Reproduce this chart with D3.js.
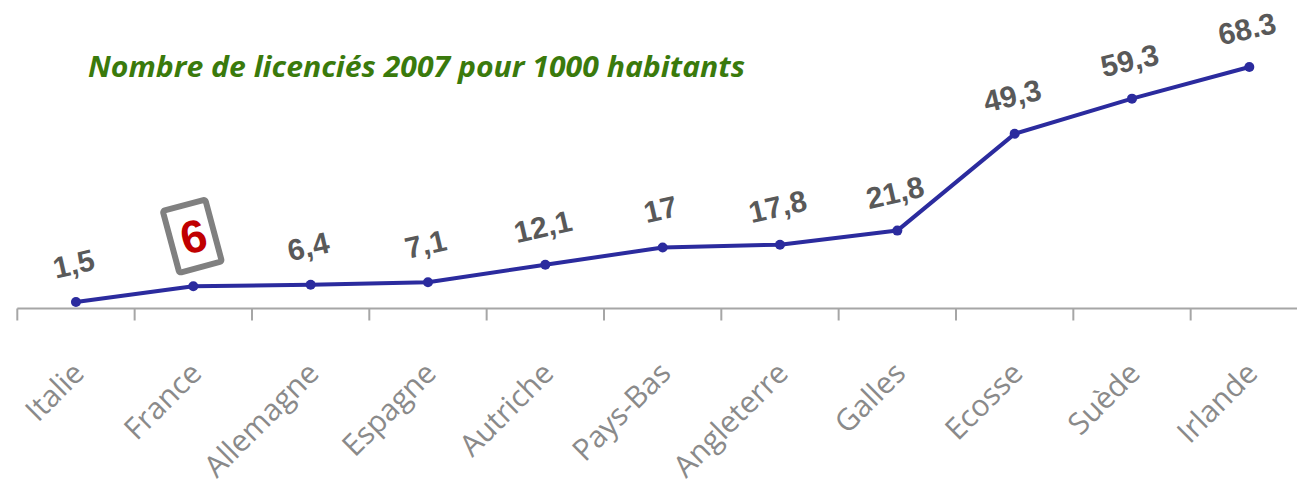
<!DOCTYPE html>
<html>
<head>
    <meta charset="UTF-8">
    <title>Nombre de licenciés 2007 pour 1000 habitants</title>
    <script src="https://d3js.org/d3.v7.min.js"></script>
    <style>
        body {
            margin: 0;
            background: #ffffff;
        }
        svg {
            display: block;
        }
        .title {
            font-family: "Open Sans", sans-serif;
            font-weight: bold;
            font-style: italic;
            fill: #3a7a0c;
        }
        .cat-label {
            font-family: "Open Sans", sans-serif;
            fill: #8a8a8a;
        }
        .val-label {
            font-family: "Liberation Sans", Arial, sans-serif;
            font-weight: bold;
            fill: #595959;
        }
    </style>
</head>
<body>
    <div id="chart"></div>

    <script>
        var categories = ["Italie", "France", "Allemagne", "Espagne", "Autriche", "Pays-Bas",
                          "Angleterre", "Galles", "Ecosse", "Suède", "Irlande"];
        var values = [1.5, 6, 6.4, 7.1, 12.1, 17, 17.8, 21.8, 49.3, 59.3, 68.3];
        var valueLabels = ["1,5", "6", "6,4", "7,1", "12,1", "17", "17,8", "21,8", "49,3", "59,3", "68.3"];
        var highlighted = "France";
        var title = "Nombre de licenciés 2007 pour 1000 habitants";

        var width = 1297,
            height = 481;

        var svg = d3.select("#chart").append("svg")
            .attr("width", width)
            .attr("height", height);

        // band scale, the last band runs past the right edge like the original
        var x = d3.scaleBand()
            .domain(categories)
            .range([17.3, 1308])
            .padding(0);

        var y = d3.scaleLinear()
            .domain([0, 70])
            .range([307.3, 61]);

        var axisY = 308.5;

        function cx(d) { return x(d) + x.bandwidth() / 2; }

        // axis line and ticks at the band edges
        var axis = svg.append("g");
        axis.append("line")
            .attr("x1", x.range()[0])
            .attr("x2", width)
            .attr("y1", axisY)
            .attr("y2", axisY)
            .attr("stroke", "#a6a6a6")
            .attr("stroke-width", 2);

        axis.selectAll(".tick")
            .data(categories)
            .enter().append("line")
            .attr("class", "tick")
            .attr("x1", function(d) { return x(d); })
            .attr("x2", function(d) { return x(d); })
            .attr("y1", axisY)
            .attr("y2", axisY + 12)
            .attr("stroke", "#a6a6a6")
            .attr("stroke-width", 2);

        axis.selectAll(".cat-label")
            .data(categories)
            .enter().append("text")
            .attr("class", "cat-label")
            .attr("font-size", 30)
            .attr("text-anchor", "end")
            .attr("transform", function(d) {
                return "translate(" + (cx(d) + 10) + "," + 375 + ") rotate(-45)";
            })
            .text(function(d) { return d; });

        // title
        svg.append("text")
            .attr("class", "title")
            .attr("x", 88)
            .attr("y", 77)
            .attr("font-size", 29)
            .attr("textLength", 657)
            .attr("lengthAdjust", "spacingAndGlyphs")
            .text(title);

        // the line
        var line = d3.line()
            .x(function(d, i) { return cx(categories[i]); })
            .y(function(d) { return y(d); });

        svg.append("path")
            .datum(values)
            .attr("d", line)
            .attr("fill", "none")
            .attr("stroke", "#2b2b9e")
            .attr("stroke-width", 4)
            .attr("stroke-linejoin", "round");

        svg.selectAll(".dot")
            .data(values)
            .enter().append("circle")
            .attr("class", "dot")
            .attr("cx", function(d, i) { return cx(categories[i]); })
            .attr("cy", function(d) { return y(d); })
            .attr("r", 5)
            .attr("fill", "#2b2b9e");

        // value labels (the highlighted one gets a box instead)
        var labelIdx = d3.range(categories.length).filter(function(i) {
            return categories[i] !== highlighted;
        });

        svg.selectAll(".val-label")
            .data(labelIdx)
            .enter().append("text")
            .attr("class", "val-label")
            .attr("font-size", 30)
            .attr("text-anchor", "middle")
            .attr("transform", function(i) {
                return "translate(" + cx(categories[i]) + "," + (y(values[i]) - 28) + ") rotate(-13)";
            })
            .text(function(i) { return valueLabels[i]; });

        var hi = categories.indexOf(highlighted);
        var hx = cx(highlighted) - 1,
            hy = y(values[hi]) - 50;

        var box = svg.append("g")
            .attr("transform", "translate(" + hx + "," + hy + ") rotate(-15)");

        box.append("rect")
            .attr("x", -22)
            .attr("y", -32)
            .attr("width", 44)
            .attr("height", 64)
            .attr("rx", 2)
            .attr("fill", "#ffffff")
            .attr("stroke", "#808080")
            .attr("stroke-width", 6);

        box.append("text")
            .attr("x", 1)
            .attr("y", 0)
            .attr("dy", "0.36em")
            .attr("text-anchor", "middle")
            .attr("font-family", "'Liberation Sans', Arial, sans-serif")
            .attr("font-weight", "bold")
            .attr("font-size", 46)
            .attr("fill", "#c00000")
            .text(valueLabels[hi]);
    </script>
</body>
</html>
